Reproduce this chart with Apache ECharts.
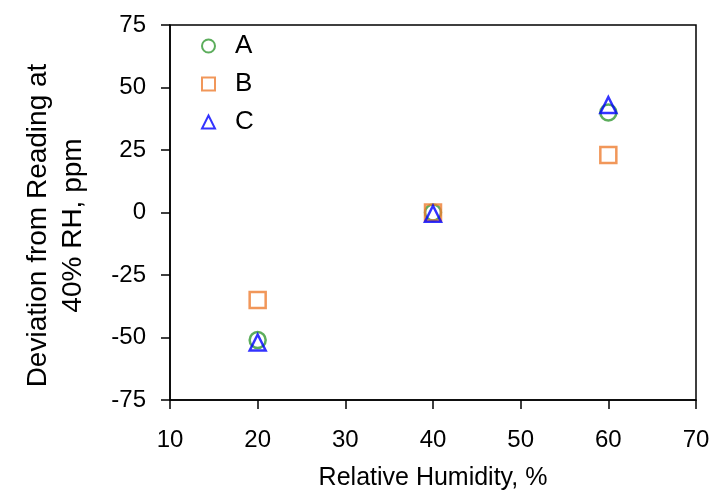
<!DOCTYPE html>
<html>
<head>
<meta charset="utf-8">
<script src="https://cdn.jsdelivr.net/npm/echarts@6/dist/echarts.min.js"></script>
<style>
  html, body { margin: 0; padding: 0; background: #fff; }
  #chart { width: 711px; height: 494px; }
</style>
</head>
<body>
<div id="chart"></div>
<script>
// Relative humidity set points (%)
const humidity = [20, 40, 60];
// Deviation from the 40% RH reading (ppm) for each sensor
const sensorA = [-51, 0, 40];
const sensorB = [-35, 0, 23];
const sensorC = [-52, -0.5, 43];
const seriesNames = ['A', 'B', 'C'];

const FONT = '"Liberation Sans", Arial, sans-serif';
const colors = ['#339933', '#ed7d31', '#0000ff'];
const symbols = ['circle', 'rect', 'triangle'];

function pairs(values) {
  return humidity.map((h, i) => [h, values[i]]);
}

const chart = echarts.init(document.getElementById('chart'), null, { renderer: 'canvas' });

const seriesData = [sensorA, sensorB, sensorC];

chart.setOption({
  animation: false,
  backgroundColor: '#fff',
  textStyle: { fontFamily: FONT },
  grid: {
    left: 170, right: 15, top: 25, bottom: 94,
    outerBoundsMode: 'none',
    containLabel: false,
    show: true, borderColor: '#000', borderWidth: 1.5,
    backgroundColor: 'transparent'
  },
  legend: {
    orient: 'vertical',
    left: 196, top: 28,
    itemWidth: 13, itemHeight: 13,
    itemGap: 12,
    textStyle: { fontSize: 26, color: '#000', fontFamily: FONT, padding: [0, 0, 0, 15] },
    data: seriesNames.map((n) => ({ name: n }))
  },
  xAxis: {
    type: 'value',
    min: 10, max: 70, interval: 10,
    name: 'Relative Humidity, %',
    nameLocation: 'middle',
    nameGap: 66,
    nameTextStyle: { fontSize: 25, color: '#000', fontFamily: FONT },
    axisLine: { onZero: false, lineStyle: { color: '#000', width: 1.5 } },
    axisTick: { show: true, inside: false, length: 9, lineStyle: { color: '#000', width: 1.5 } },
    axisLabel: { fontSize: 24, color: '#000', margin: 28, fontFamily: FONT },
    splitLine: { show: false }
  },
  yAxis: {
    type: 'value',
    min: -75, max: 75, interval: 25,
    name: 'Deviation from Reading at\n40% RH, ppm',
    nameLocation: 'middle',
    nameGap: 79,
    nameTextStyle: { fontSize: 28, color: '#000', lineHeight: 35, fontFamily: FONT, padding: [0, 26, 0, 0] },
    axisLine: { onZero: false, lineStyle: { color: '#000', width: 1.5 } },
    axisTick: { show: true, inside: false, length: 9, lineStyle: { color: '#000', width: 1.5 } },
    axisLabel: { fontSize: 24, color: '#000', margin: 24, fontFamily: FONT },
    splitLine: { show: false }
  },
  series: seriesNames.map((name, i) => ({
    name: name,
    type: 'scatter',
    symbol: symbols[i],
    symbolSize: 16,
    itemStyle: {
      color: 'rgba(255,255,255,0)',
      borderColor: colors[i],
      borderWidth: 2.5
    },
    data: pairs(seriesData[i]),
    z: 2 + i
  }))
});
</script>
</body>
</html>
